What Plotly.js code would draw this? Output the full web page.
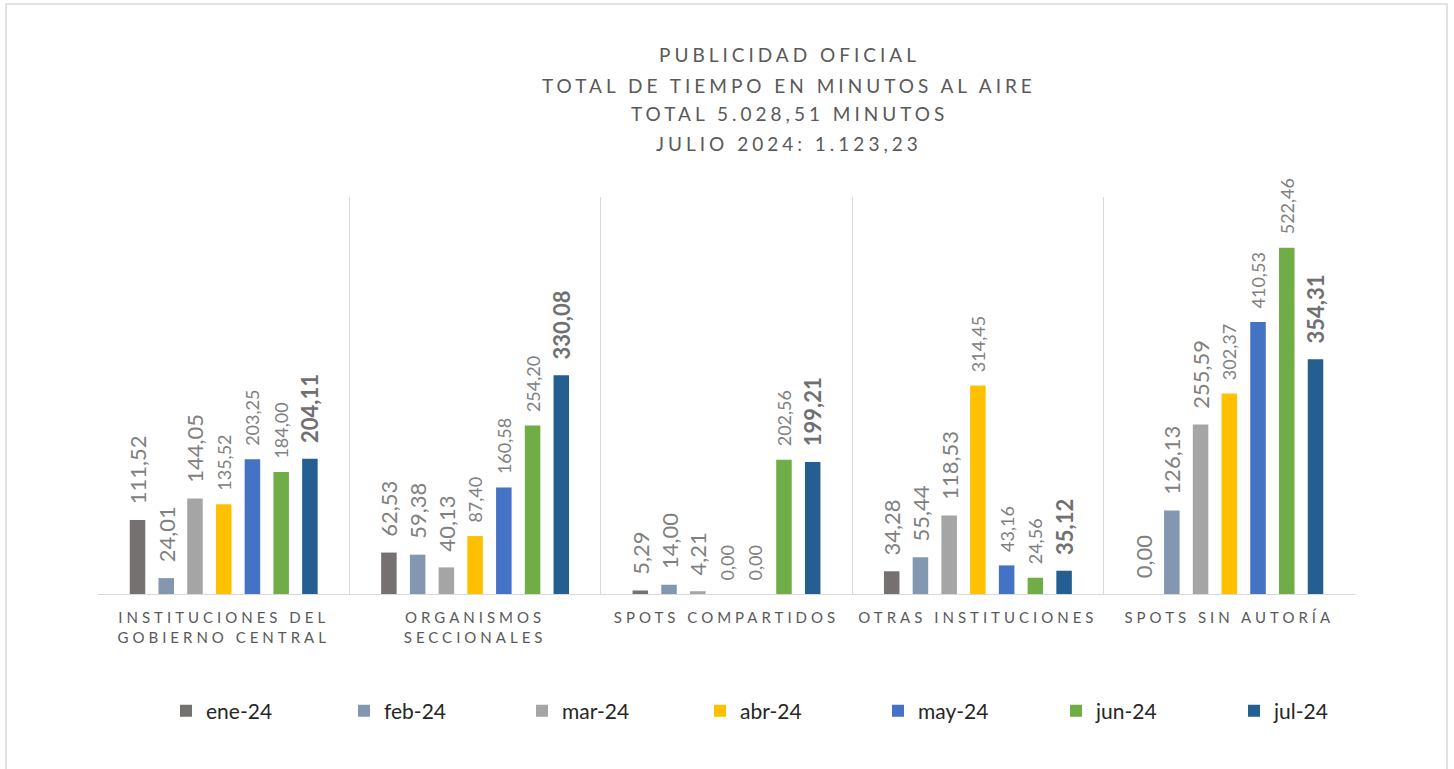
<!DOCTYPE html>
<html>
<head>
<meta charset="utf-8">
<script src="https://cdn.plot.ly/plotly-3.0.1.min.js"></script>
<style>
  body { margin: 0; background: #fff; }
  #chart { width: 1454px; height: 769px; }
  .annotation-text { letter-spacing: 4px; }
  .xtick text { letter-spacing: 4px; }
</style>
</head>
<body>
<div id="chart"></div>
<script>
const categories = ['INSTITUCIONES DEL<br>GOBIERNO CENTRAL', 'ORGANISMOS<br>SECCIONALES',
    'SPOTS COMPARTIDOS', 'OTRAS INSTITUCIONES', 'SPOTS SIN AUTORÍA'];
const months = ['ene-24', 'feb-24', 'mar-24', 'abr-24', 'may-24', 'jun-24', 'jul-24'];

const ene24 = [111.52, 62.53, 5.29, 34.28, 0.00];
const feb24 = [24.01, 59.38, 14.00, 55.44, 126.13];
const mar24 = [144.05, 40.13, 4.21, 118.53, 255.59];
const abr24 = [135.52, 87.40, 0.00, 314.45, 302.37];
const may24 = [203.25, 160.58, 0.00, 43.16, 410.53];
const jun24 = [184.00, 254.20, 202.56, 24.56, 522.46];
const jul24 = [204.11, 330.08, 199.21, 35.12, 354.31];

const titleLines = ['PUBLICIDAD OFICIAL', 'TOTAL DE TIEMPO EN MINUTOS AL AIRE',
    'TOTAL 5.028,51 MINUTOS', 'JULIO 2024: 1.123,23'];

const series = [ene24, feb24, mar24, abr24, may24, jun24, jul24];
const colors = ['#767171', '#8497B0', '#A5A5A5', '#FFC000', '#4472C4', '#70AD47', '#255E91'];
const labelSize = [22, 22, 22, 18, 18, 18, 22];

var traces = series.map(function (vals, i) {
    var last = i === series.length - 1;
    return {
        type: 'bar',
        name: months[i],
        x: categories,
        y: vals,
        marker: { color: colors[i] },
        texttemplate: '\u2007%{y:.2f}',
        textposition: 'outside',
        textangle: -90,
        constraintext: 'none',
        cliponaxis: false,
        textfont: {
            family: 'Lato, sans-serif',
            size: labelSize[i],
            color: last ? '#707070' : '#808080',
            weight: last ? 'bold' : 'normal'
        },
        hoverinfo: 'x+y+name'
    };
});

// title lines, positioned in paper units (plot area 197..594 px)
const titleY = [55, 85, 114, 143];
var annotations = titleLines.map(function (t, i) {
    return {
        text: t,
        xref: 'paper', yref: 'paper',
        x: (789 - 98) / 1257, y: (594 - titleY[i]) / 397,
        xanchor: 'center', yanchor: 'middle',
        showarrow: false,
        font: { family: 'Lato, sans-serif', size: 19, color: '#595959' }
    };
});

var layout = {
    width: 1454,
    height: 769,
    margin: { l: 98, r: 99, t: 197, b: 175 },
    paper_bgcolor: '#fff',
    plot_bgcolor: '#fff',
    separators: ',.',
    barmode: 'group',
    bargap: 0.2,
    bargroupgap: 0.46,
    showlegend: true,
    legend: {
        orientation: 'h',
        xref: 'container', yref: 'container',
        x: 789 / 1454, y: 1 - 711 / 769,
        xanchor: 'center', yanchor: 'middle',
        entrywidth: 133, entrywidthmode: 'pixels',
        font: { family: 'Lato, sans-serif', size: 21, color: '#262626' },
        traceorder: 'normal'
    },
    xaxis: {
        type: 'category',
        tickson: 'boundaries',
        showgrid: true,
        gridcolor: '#d9d9d9',
        gridwidth: 1,
        showline: true,
        linecolor: '#d9d9d9',
        linewidth: 1,
        ticks: '',
        ticklabelstandoff: 10,
        tickfont: { family: 'Lato, sans-serif', size: 15, color: '#595959' },
        fixedrange: true
    },
    yaxis: {
        range: [0, 599],
        showgrid: false,
        zeroline: false,
        showticklabels: false,
        fixedrange: true
    },
    annotations: annotations,
    shapes: [{
        type: 'rect', xref: 'paper', yref: 'paper',
        x0: (6 - 98) / 1257, x1: (1447 - 98) / 1257,
        y0: (594 - 790) / 397, y1: (594 - 4) / 397,
        line: { color: '#d9d9d9', width: 1.5 },
        fillcolor: 'rgba(0,0,0,0)', layer: 'below'
    }]
};

Plotly.newPlot('chart', traces, layout, { displayModeBar: false, staticPlot: true });
</script>
</body>
</html>
